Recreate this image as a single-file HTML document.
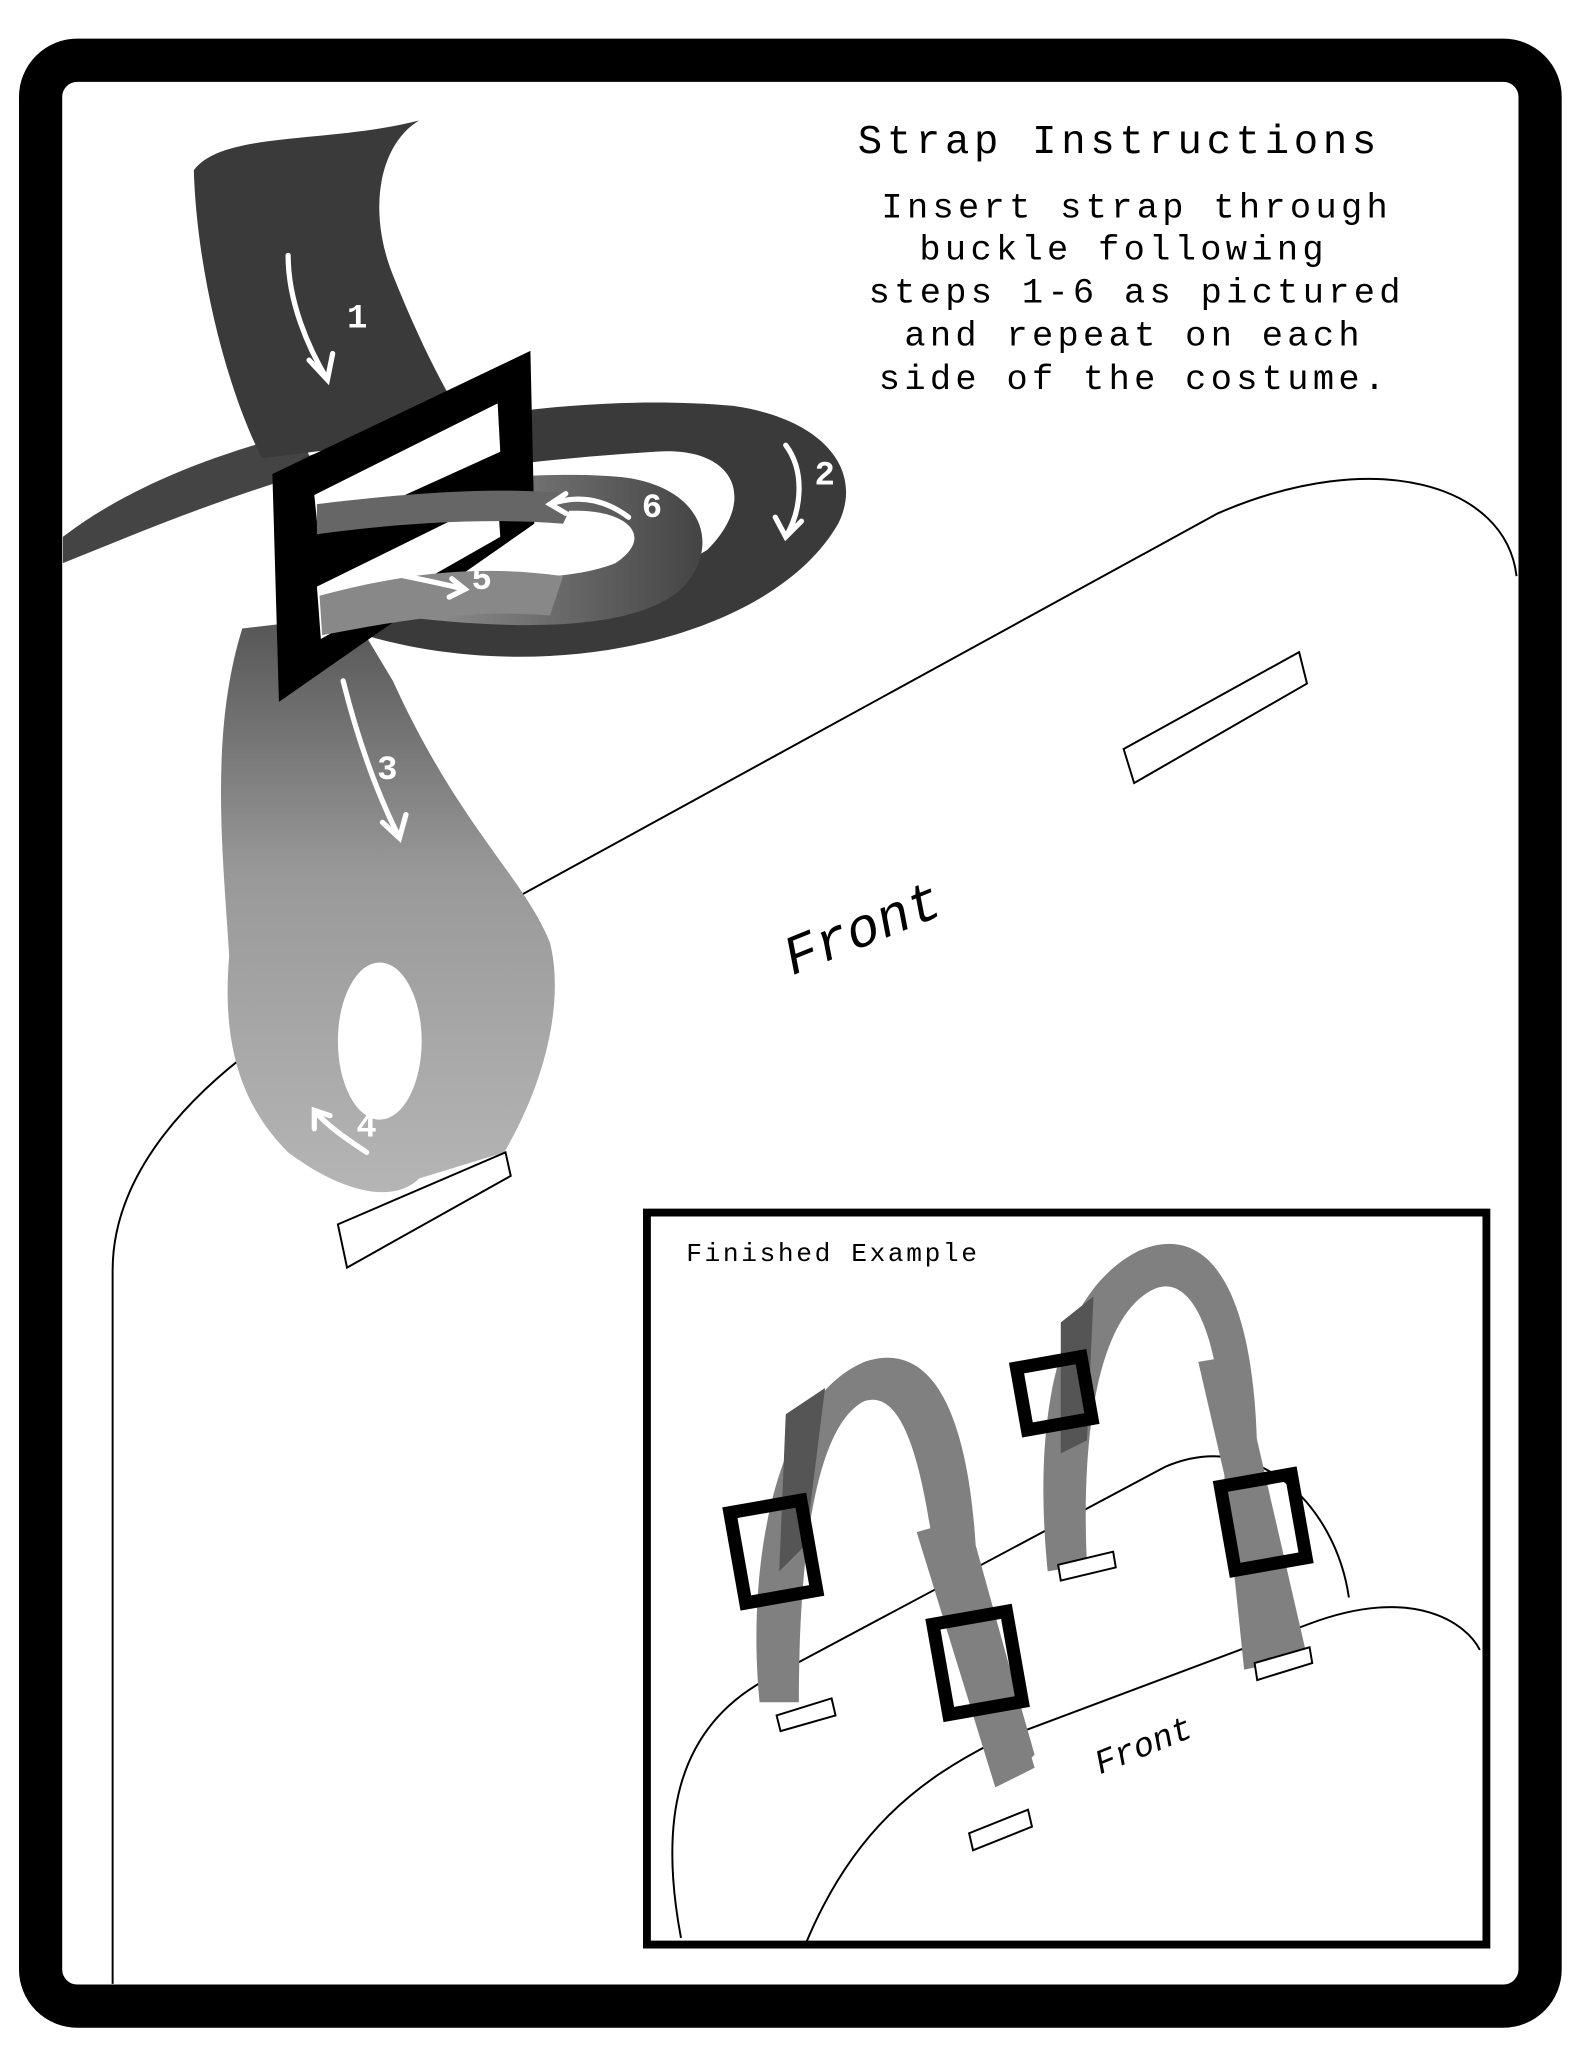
<!DOCTYPE html>
<html><head><meta charset="utf-8"><style>
html,body{margin:0;padding:0;background:#fff}
svg{display:block}
text{font-family:"Liberation Mono",monospace}
</style></head><body>
<svg width="1582" height="2048" viewBox="0 0 1208 1564" preserveAspectRatio="none" xmlns="http://www.w3.org/2000/svg">
<defs>
<linearGradient id="g1" x1="0" y1="0" x2="0" y2="1"><stop offset="0" stop-color="#555"/><stop offset="0.45" stop-color="#999"/><stop offset="1" stop-color="#b5b5b5"/></linearGradient>
<linearGradient id="g2" x1="0" y1="0" x2="1" y2="0"><stop offset="0" stop-color="#aaa"/><stop offset="1" stop-color="#444"/></linearGradient>
</defs>
<rect x="0" y="0" width="1208" height="1564" fill="#fff"/>
<rect x="31" y="46" width="1145" height="1486" rx="28" fill="none" stroke="#000" stroke-width="33"/>
<path d="M86,1515 L86,970 C86,900 140,830 240,770 L930,392 C1050,340 1150,370 1158,440" fill="none" stroke="#000" stroke-width="1.5"/>
<polygon points="858,572 992,498 998,522 866,598" fill="#fff" stroke="#000" stroke-width="1.5"/>
<text x="605" y="745" font-size="42" font-style="italic" transform="rotate(-22 605 745)">Front</text>
<text x="655" y="117" font-size="31" letter-spacing="3.6">Strap Instructions</text>
<g font-size="27" text-anchor="middle" letter-spacing="3.3">
<text x="868" y="166">Insert strap through</text>
<text x="858" y="198">buckle following</text>
<text x="868" y="231">steps 1-6 as pictured</text>
<text x="866" y="264">and repeat on each</text>
<text x="866" y="297">side of the costume.</text>
</g>
<path d="M48,410 C100,370 170,345 230,330 L240,360 C170,380 110,405 48,430 Z" fill="#444"/>
<path d="M320,92 C290,110 280,160 300,210 C320,260 340,300 360,330 L200,350 C170,290 150,200 148,130 C170,100 250,110 320,92 Z" fill="#3a3a3a"/>
<path d="M185,480 C160,560 170,650 175,730 C170,790 180,840 220,880 C260,910 300,920 320,900 L385,880 C420,820 430,760 420,720 C400,670 350,630 300,520 L270,470 Z" fill="url(#g1)"/>
<ellipse cx="290" cy="795" rx="32" ry="60" fill="#fff"/>
<polygon points="258,935 386,880 390,898 265,968" fill="#fff" stroke="#000" stroke-width="1.5"/>
<path d="M230,350 C320,320 450,300 560,310 C630,320 660,360 640,400 C600,470 480,510 360,500 C300,495 260,480 240,470 L240,440 C330,470 460,470 540,420 C580,380 560,340 500,345 C420,350 330,360 240,380 Z" fill="#3a3a3a"/>
<path d="M240,380 C330,368 420,358 480,365 C540,375 550,420 520,450 C480,485 380,480 300,470 L240,460 L240,430 C320,440 420,450 470,430 C500,410 480,390 440,390 C380,390 310,400 240,405 Z" fill="url(#g2)"/>
<path d="M208,362 L405,268 L408,400 L213,536 Z" fill="#000"/>
<path d="M240,378 L380,308 L382,345 L243,408 Z" fill="#fff"/>
<path d="M242,448 L380,380 L382,410 L245,488 Z" fill="#fff"/>
<path d="M242,385 C300,378 380,370 440,378 L430,400 C370,395 300,400 242,408 Z" fill="#666"/>
<path d="M244,455 C300,440 360,430 430,440 L420,470 C350,465 300,475 246,485 Z" fill="#888"/>
<g fill="none" stroke="#fff" stroke-width="4" stroke-linecap="round">
<path d="M220,195 C220,230 235,265 250,290 M236,275 L250,290 L254,270"/>
<path d="M600,340 C615,360 612,390 600,410 M592,395 L600,410 L612,398"/>
<path d="M480,395 C460,380 440,378 420,385 M432,377 L420,385 L432,392"/>
<path d="M285,435 C310,440 335,445 355,450 M345,442 L355,450 L343,456"/>
<path d="M262,520 C272,560 285,600 305,640 M292,628 L305,640 L310,622"/>
<path d="M280,880 C265,870 250,860 240,848 M240,862 L240,848 L252,852"/>
</g>
<g fill="#fff" font-size="26" font-weight="bold">
<text x="265" y="250">1</text><text x="622" y="370">2</text><text x="288" y="595">3</text>
<text x="272" y="868">4</text><text x="360" y="450">5</text><text x="490" y="395">6</text>
</g>
<rect x="494" y="926" width="641" height="559" fill="#fff" stroke="#000" stroke-width="6"/>
<text x="524" y="963" font-size="20" letter-spacing="2">Finished Example</text>
<path d="M520,1480 C505,1400 510,1320 590,1280 L890,1120 C960,1090 1020,1150 1030,1220" fill="none" stroke="#000" stroke-width="1.5"/>
<path d="M615,1485 C650,1400 700,1360 760,1330 L1000,1240 C1080,1210 1120,1240 1130,1260" fill="none" stroke="#000" stroke-width="1.5"/>
<text x="840" y="1355" font-size="26" font-style="italic" transform="rotate(-22 840 1355)">Front</text>
<g fill="#808080">
<path d="M580,1300 C570,1200 590,1070 660,1040 C720,1020 740,1100 745,1180 L770,1270 L790,1340 L770,1360 L740,1290 L715,1200 C705,1120 690,1060 660,1070 C620,1090 610,1200 610,1300 Z"/>
<path d="M800,1200 C790,1100 800,990 870,955 C930,930 960,1000 960,1120 L975,1270 L950,1275 L935,1130 C935,1020 910,970 880,985 C840,1005 825,1090 830,1195 Z"/>
<path d="M700,1170 L735,1160 L790,1350 L760,1365 Z"/>
<path d="M915,1040 L945,1035 L998,1265 L968,1270 Z"/>
</g>
<g fill="#555"><path d="M600,1080 L630,1060 L615,1180 L595,1200 Z"/><path d="M810,1010 L835,990 L830,1100 L810,1110 Z"/></g>
<g fill="none" stroke="#000" stroke-width="10">
<rect x="563" y="1150" width="55" height="70" transform="rotate(-10 590 1185)"/>
<rect x="718" y="1235" width="57" height="70" transform="rotate(-10 746 1270)"/>
<rect x="780" y="1040" width="50" height="48" transform="rotate(-10 805 1064)"/>
<rect x="937" y="1130" width="55" height="65" transform="rotate(-10 964 1162)"/>
</g>
<g fill="#fff" stroke="#000" stroke-width="1.5">
<polygon points="593,1310 635,1297 638,1310 596,1322"/>
<polygon points="740,1400 785,1382 788,1395 743,1413"/>
<polygon points="808,1195 850,1185 852,1197 810,1207"/>
<polygon points="958,1270 1000,1258 1002,1270 960,1283"/>
</g>
</svg>
</body></html>
